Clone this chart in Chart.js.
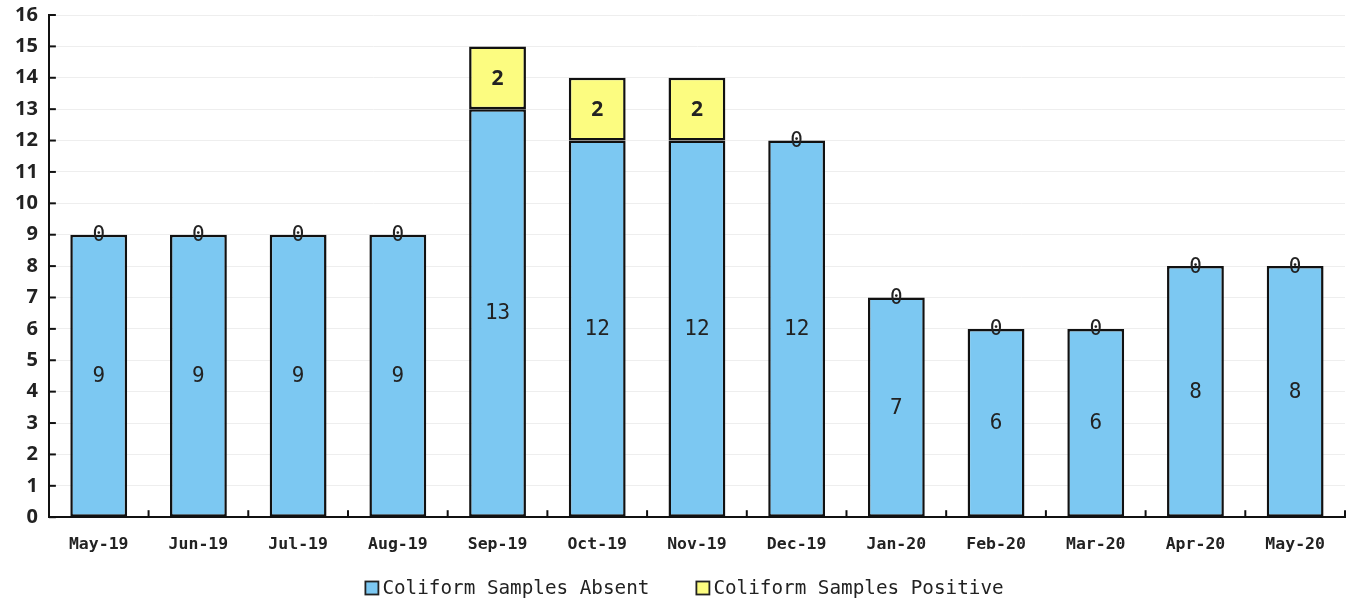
<!DOCTYPE html>
<html>
<head>
<meta charset="utf-8">
<script src="https://cdn.jsdelivr.net/npm/chart.js@4.4.0/dist/chart.umd.min.js"></script>
<style>
  html, body { margin: 0; padding: 0; background: #fff; }
  #wrap { width: 1353px; height: 603px; }
</style>
</head>
<body>
<div id="wrap"><canvas id="myChart"></canvas></div>
<script>
const months = ['May-19', 'Jun-19', 'Jul-19', 'Aug-19', 'Sep-19', 'Oct-19', 'Nov-19', 'Dec-19', 'Jan-20', 'Feb-20', 'Mar-20', 'Apr-20', 'May-20'];
const absent = [9, 9, 9, 9, 13, 12, 12, 12, 7, 6, 6, 8, 8];
const positive = [0, 0, 0, 0, 2, 2, 2, 0, 0, 0, 0, 0, 0];
const yTicks = [0, 16];

// draw value labels in the middle of each segment (also for zero-height ones)
const valueLabels = {
    id: 'valueLabels',
    afterDatasetsDraw(chart) {
        const ctx = chart.ctx;
        ctx.save();
        ctx.fillStyle = '#222';
        ctx.textAlign = 'center';
        ctx.textBaseline = 'middle';
        chart.data.datasets.forEach((ds, i) => {
            chart.getDatasetMeta(i).data.forEach((bar, j) => {
                const v = ds.data[j];
                ctx.font = (i == 1 && v > 0) ? 'bold 21px "Open Sans"' : '21px "DejaVu Sans Mono"';
                ctx.fillText(String(v), bar.x, (bar.y + bar.base) / 2 + 1);
            });
        });
        ctx.restore();
    }
};

// small inward tick marks on both axes
const axisTicks = {
    id: 'axisTicks',
    afterDraw(chart) {
        const ctx = chart.ctx;
        const x = chart.scales.x, y = chart.scales.y;
        ctx.save();
        ctx.strokeStyle = '#111';
        ctx.lineWidth = 2;
        for (let v = yTicks[0]; v <= yTicks[1]; v++) {
            const py = y.getPixelForValue(v);
            ctx.beginPath();
            ctx.moveTo(x.left, py);
            ctx.lineTo(x.left + 7, py);
            ctx.stroke();
        }
        const step = x.getPixelForValue(1) - x.getPixelForValue(0);
        for (let i = 0; i < months.length; i++) {
            const px = x.getPixelForValue(i) + step / 2;
            ctx.beginPath();
            ctx.moveTo(px, y.bottom);
            ctx.lineTo(px, y.bottom - 7);
            ctx.stroke();
        }
        ctx.restore();
    }
};

// legend drawn by hand so the spacing matches (box right against the text)
const bottomLegend = {
    id: 'bottomLegend',
    afterDraw(chart) {
        const ctx = chart.ctx;
        const items = chart.data.datasets;
        const gap = 47;
        const box = 13;
        ctx.save();
        ctx.font = '19.3px "DejaVu Sans Mono"';
        ctx.textBaseline = 'middle';
        const widths = items.map(ds => box + 4 + ctx.measureText(ds.label).width);
        const total = widths.reduce((a, b) => a + b, 0) + gap * (items.length - 1);
        let x = (chart.width - total) / 2 + 8;
        const y = 588;
        items.forEach((ds, i) => {
            ctx.fillStyle = ds.backgroundColor;
            ctx.fillRect(x, y - box / 2, box, box);
            ctx.strokeStyle = '#222';
            ctx.lineWidth = 1.8;
            ctx.strokeRect(x, y - box / 2, box, box);
            ctx.fillStyle = '#222';
            ctx.fillText(ds.label, x + box + 4, y + 1);
            x += widths[i] + gap;
        });
        ctx.restore();
    }
};

const ctx = document.getElementById('myChart').getContext('2d');

const myChart = new Chart(ctx, {
    type: 'bar',
    data: {
        labels: months,
        datasets: [{
            label: 'Coliform Samples Absent',
            data: absent,
            backgroundColor: '#7cc8f2',
            borderColor: '#111',
            borderWidth: 2.5,
            borderSkipped: false,
            barPercentage: 0.57,
            categoryPercentage: 1
        }, {
            label: 'Coliform Samples Positive',
            data: positive,
            backgroundColor: '#fcfc80',
            borderColor: '#111',
            borderWidth: 2.5,
            borderSkipped: false,
            barPercentage: 0.57,
            categoryPercentage: 1
        }]
    },
    options: {
        responsive: true,
        maintainAspectRatio: false,
        animation: false,
        layout: { padding: { left: 4, right: 8, top: 0, bottom: 38 } },
        plugins: {
            tooltip: { enabled: false },
            legend: { display: false }
        },
        scales: {
            x: {
                stacked: true,
                offset: true,
                grid: { display: false },
                border: { color: '#111', width: 2 },
                ticks: {
                    color: '#222',
                    font: { family: 'DejaVu Sans Mono', size: 16.5, weight: 'bold' },
                    maxRotation: 0,
                    padding: 10
                }
            },
            y: {
                stacked: true,
                min: yTicks[0],
                max: yTicks[1],
                grid: { color: '#eeeeee', drawTicks: false },
                border: { color: '#111', width: 2 },
                afterFit: (s) => { s.paddingTop = 15; },
                ticks: {
                    stepSize: 1,
                    color: '#222',
                    font: { family: 'Open Sans', size: 20, weight: 'bold' },
                    padding: 11
                }
            }
        }
    },
    plugins: [valueLabels, axisTicks, bottomLegend]
});
</script>
</body>
</html>
